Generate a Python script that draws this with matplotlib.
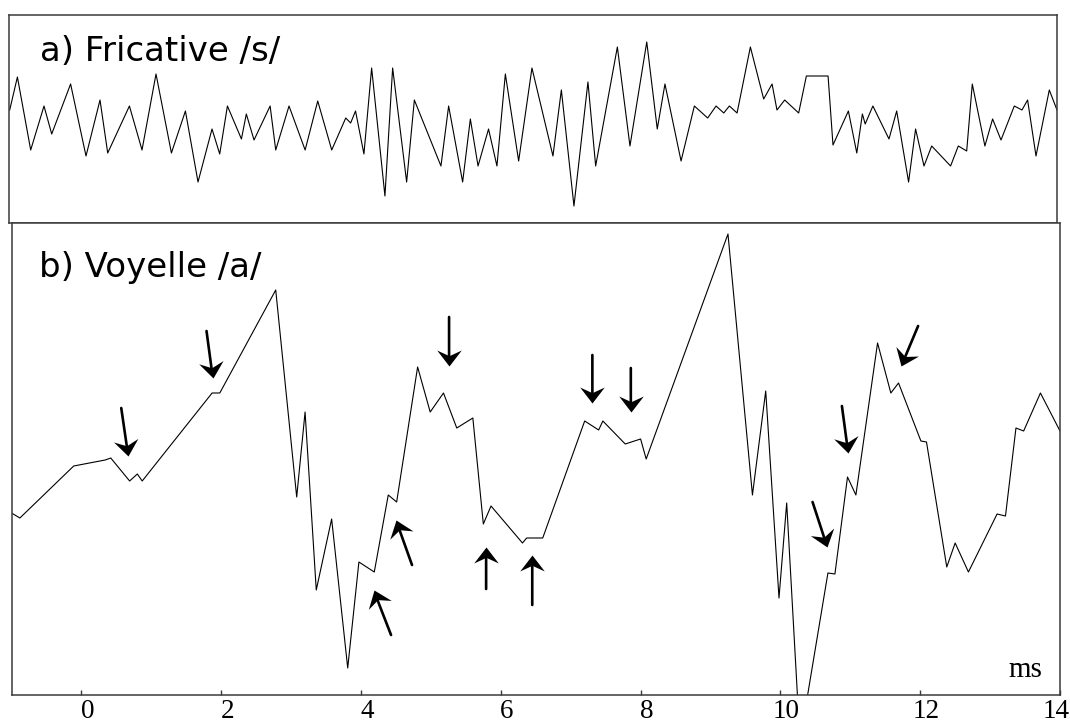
import math
import matplotlib
matplotlib.use("Agg")
import matplotlib.pyplot as plt
import matplotlib.transforms as mtransforms
from matplotlib.path import Path
from matplotlib.markers import MarkerStyle

# a) fricative /s/ : time (ms) and amplitude (arbitrary units)
fric_t = [-1.02, -0.91, -0.72, -0.53, -0.42, -0.15, 0.07, 0.27, 0.38, 0.69,
          0.87, 1.07, 1.29, 1.49, 1.67, 1.87, 1.98, 2.09, 2.29, 2.36,
          2.47, 2.70, 2.78, 2.97, 3.20, 3.38, 3.58, 3.78, 3.85, 3.92,
          4.04, 4.15, 4.34, 4.45, 4.65, 4.76, 5.14, 5.25, 5.45, 5.56,
          5.67, 5.82, 5.94, 6.06, 6.25, 6.44, 6.74, 6.86, 7.04, 7.24,
          7.35, 7.66, 7.84, 8.08, 8.23, 8.34, 8.57, 8.76, 8.95, 9.07,
          9.18, 9.26, 9.37, 9.56, 9.75, 9.87, 9.94, 10.05, 10.25, 10.36,
          10.67, 10.74, 10.96, 11.08, 11.16, 11.20, 11.31, 11.54, 11.65, 11.82,
          11.92, 12.04, 12.15, 12.42, 12.53, 12.65, 12.73, 12.91, 13.02, 13.14,
          13.33, 13.44, 13.52, 13.64, 13.83, 13.94]
fric_v = [0.10, 0.43, -0.30, 0.14, -0.14, 0.36, -0.36, 0.20, -0.33, 0.14,
          -0.30, 0.46, -0.33, 0.09, -0.62, -0.09, -0.34, 0.14, -0.19, 0.06,
          -0.20, 0.14, -0.30, 0.14, -0.30, 0.19, -0.30, 0.02, -0.03, 0.09,
          -0.34, 0.52, -0.76, 0.52, -0.62, 0.20, -0.46, 0.14, -0.62, 0.01,
          -0.46, -0.09, -0.46, 0.46, -0.41, 0.52, -0.36, 0.30, -0.86, 0.38,
          -0.46, 0.73, -0.26, 0.78, -0.09, 0.36, -0.41, 0.14, 0.02, 0.14,
          0.07, 0.14, 0.07, 0.73, 0.21, 0.36, 0.10, 0.20, 0.07, 0.44,
          0.44, -0.25, 0.09, -0.33, 0.06, -0.04, 0.14, -0.19, 0.09, -0.62,
          -0.09, -0.46, -0.26, -0.46, -0.26, -0.31, 0.36, -0.26, 0.01, -0.20,
          0.14, 0.10, 0.20, -0.36, 0.30, 0.10]

# b) voyelle /a/
voy_t = [-1.0, -0.88, -0.11, 0.34, 0.42, 0.69, 0.80, 0.87, 1.29, 1.87,
         1.98, 2.78, 3.08, 3.20, 3.36, 3.58, 3.81, 3.97, 4.19, 4.39,
         4.51, 4.81, 4.99, 5.18, 5.37, 5.60, 5.75, 5.86, 6.31, 6.37,
         6.60, 7.20, 7.40, 7.46, 7.78, 8.00, 8.08, 9.25, 9.60, 9.79,
         9.98, 10.09, 10.28, 10.68, 10.78, 10.96, 11.08, 11.39, 11.58, 11.69,
         12.01, 12.09, 12.38, 12.50, 12.69, 13.10, 13.22, 13.37, 13.48, 13.72,
         14.0]
voy_v = [-0.53, -0.58, -0.06, 0.00, 0.02, -0.21, -0.14, -0.21, 0.16, 0.67,
         0.67, 1.70, -0.37, 0.48, -1.30, -0.59, -2.08, -1.02, -1.12, -0.35,
         -0.42, 0.93, 0.48, 0.67, 0.32, 0.42, -0.64, -0.46, -0.83, -0.78,
         -0.78, 0.39, 0.30, 0.39, 0.16, 0.21, 0.01, 2.26, -0.35, 0.69,
         -1.38, -0.43, -2.81, -1.13, -1.14, -0.17, -0.35, 1.17, 0.67, 0.77,
         0.19, 0.18, -1.07, -0.83, -1.12, -0.54, -0.56, 0.32, 0.29, 0.67,
         0.29]

# arrows: (tail_t, tail_v, head_t, head_v)
arrows = [
    (0.57, 0.52, 0.67, 0.04),
    (1.79, 1.29, 1.88, 0.82),
    (5.26, 1.43, 5.26, 0.94),
    (4.73, -1.05, 4.50, -0.60),
    (4.43, -1.75, 4.18, -1.30),
    (5.79, -1.29, 5.79, -0.87),
    (6.45, -1.45, 6.45, -0.95),
    (7.31, 1.05, 7.31, 0.57),
    (7.86, 0.92, 7.86, 0.48),
    (11.97, 1.34, 11.73, 0.94),
    (10.88, 0.54, 10.97, 0.07),
    (10.46, -0.42, 10.67, -0.87),
]

xticks = [0, 2, 4, 6, 8, 10, 12, 14]

W, H = 1070, 726
fig = plt.figure(figsize=(W / 100, H / 100), dpi=100)
spine_col = "#3a3a3a"

# top panel
ax1 = fig.add_axes([9 / W, 1 - 223 / H, 1048 / W, 208 / H])
ax1.plot(fric_t, fric_v, color="black", lw=0.8)
ax1.set_xlim(-1.03, 13.94)
ax1.set_ylim(-1.03, 1.05)
ax1.set_xticks([])
ax1.set_yticks([])
for s in ax1.spines.values():
    s.set_color(spine_col)
    s.set_linewidth(1.1)
ax1.text(31 / 1048, 0.78, "a) Fricative /s/", transform=ax1.transAxes,
         fontsize=24.5, family="DejaVu Sans", va="baseline", ha="left")

# bottom panel
ax2 = fig.add_axes([11.5 / W, 1 - 695 / H, 1048.5 / W, 472 / H])
ax2.plot(voy_t, voy_v, color="black", lw=0.8)
ax2.set_xlim(-1, 14)
ax2.set_ylim(-2.35, 2.37)
ax2.set_yticks([])
ax2.set_xticks(xticks)
ax2.set_xticklabels([str(t) for t in xticks], family="Liberation Serif", fontsize=19.5)
ax2.tick_params(axis="x", direction="in", length=3.5, width=1, color=spine_col, pad=3)
for s in ax2.spines.values():
    s.set_color(spine_col)
    s.set_linewidth(1.1)

# labels sit slightly right of their ticks, the last one pulled inside
for i, lab in enumerate(ax2.get_xticklabels()):
    dx = 6 if i < len(xticks) - 1 else -4
    lab.set_transform(lab.get_transform() +
                      mtransforms.ScaledTranslation(dx / 100, 0, fig.dpi_scale_trans))

ax2.text(27 / 1048, 0.886, "b) Voyelle /a/", transform=ax2.transAxes,
         fontsize=24.5, family="DejaVu Sans", va="baseline", ha="left")
ax2.text(0.983, 0.038, "ms", transform=ax2.transAxes, fontsize=21,
         family="Liberation Serif", va="baseline", ha="right")

# stealth-type arrow head, tip at origin, pointing up
stealth = Path([(0, 0), (-0.5, -0.65), (0, -0.42), (0.5, -0.65), (0, 0)],
               [Path.MOVETO, Path.LINETO, Path.LINETO, Path.LINETO, Path.CLOSEPOLY])

for tt, tv, ht, hv in arrows:
    ax2.annotate("", xy=(ht, hv), xytext=(tt, tv),
                 arrowprops=dict(arrowstyle="-", lw=1.9, color="black",
                                 shrinkA=0, shrinkB=6))
    p0 = ax2.transData.transform((tt, tv))
    p1 = ax2.transData.transform((ht, hv))
    ang = math.degrees(math.atan2(p1[1] - p0[1], p1[0] - p0[0])) - 90
    mk = MarkerStyle(stealth, transform=mtransforms.Affine2D().rotate_deg(ang))
    ax2.plot([ht], [hv], marker=mk, markersize=23, color="black",
             markeredgewidth=0, linestyle="none")

fig.savefig("out.png", dpi=100)
